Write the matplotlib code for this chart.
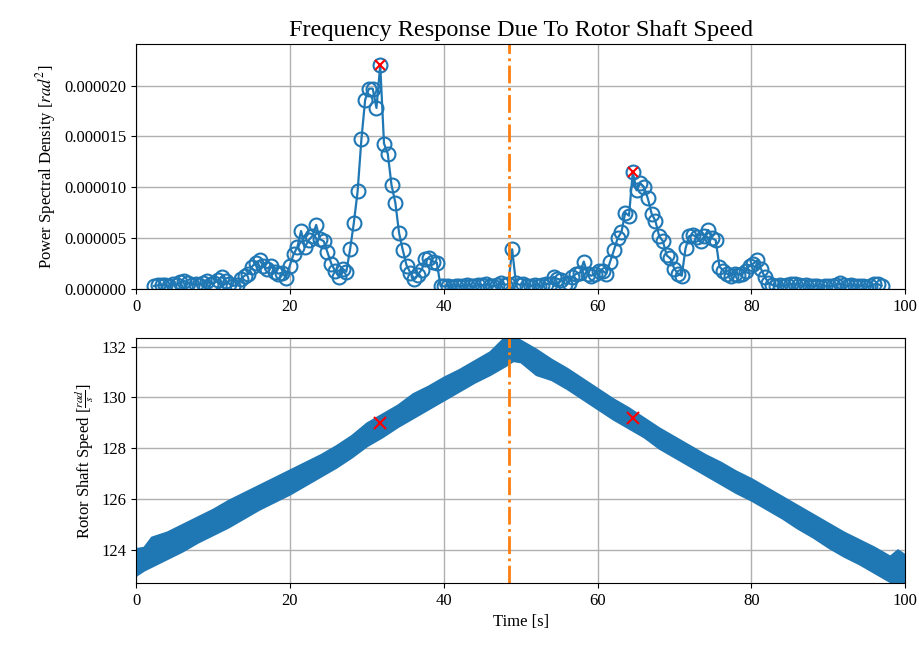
import numpy as np
import matplotlib
matplotlib.use('Agg')
import matplotlib.pyplot as plt
from matplotlib.ticker import FormatStrFormatter

plt.rcParams['font.family'] = ['Liberation Serif', 'DejaVu Serif']
plt.rcParams['mathtext.fontset'] = 'stix'

# PSD samples (units of 1e-6 rad^2), first bin at 2.35, bin width 0.49
f_start = 2.35
f_step = 0.49
psd_e6 = [
    0.3, 0.35, 0.4, 0.35, 0.3, 0.45, 0.4, 0.7, 0.8, 0.6,
    0.4, 0.5, 0.4, 0.6, 0.8, 0.5, 0.6, 0.9, 1.2, 0.8,
    0.5, 0.3, 0.4, 1.0, 1.3, 1.5, 2.2, 2.6, 2.8, 2.3,
    2.0, 2.3, 1.7, 1.5, 1.6, 1.1, 2.3, 3.4, 4.1, 5.7,
    4.1, 4.8, 5.2, 6.3, 4.9, 4.7, 3.6, 2.5, 1.8, 1.2,
    2.0, 1.7, 3.9, 6.5, 9.6, 14.7, 18.6, 19.7, 19.7, 17.8,
    22.0, 14.3, 13.3, 10.2, 8.5, 5.5, 3.8, 2.3, 1.6, 1.0,
    1.4, 1.9, 2.9, 3.0, 2.7, 2.6, 0.3, 0.25, 0.3, 0.2,
    0.3, 0.25, 0.3, 0.35, 0.3, 0.25, 0.4, 0.35, 0.5, 0.3,
    0.3, 0.35, 0.6, 0.4, 0.5, 3.9, 0.6, 0.4, 0.5, 0.3,
    0.3, 0.4, 0.3, 0.35, 0.5, 0.5, 1.2, 1.0, 0.9, 0.5,
    0.6, 1.2, 1.5, 1.6, 2.7, 1.5, 1.3, 1.5, 1.8, 1.8,
    1.5, 2.7, 3.8, 5.0, 5.6, 7.5, 7.2, 11.5, 9.7, 10.4,
    10.0, 8.9, 7.4, 6.7, 5.2, 4.7, 3.3, 3.0, 2.0, 1.5,
    1.3, 4.0, 5.2, 5.3, 5.1, 4.7, 5.2, 5.8, 5.0, 4.8,
    2.2, 1.8, 1.5, 1.3, 1.5, 1.4, 1.5, 1.8, 2.3, 2.5,
    2.8, 2.0, 1.2, 0.6, 0.4, 0.3, 0.35, 0.3, 0.4, 0.45,
    0.5, 0.4, 0.3, 0.35, 0.3, 0.25, 0.3, 0.2, 0.3, 0.25,
    0.3, 0.4, 0.55, 0.4, 0.3, 0.35, 0.25, 0.3, 0.3, 0.2,
    0.3, 0.45, 0.5, 0.3,
]
peak_idx = [60, 127]

# rotor speed band (upper / lower edge of the noisy trace)
t = [0, 1, 2, 4, 6, 8, 10, 12, 14, 16, 18, 20, 22, 24, 26, 28, 30, 32, 34, 36, 38,
     40, 42, 44, 46, 48, 49, 50, 52, 54, 56, 58, 60, 62, 64, 66, 68, 70, 72, 74, 76,
     78, 80, 82, 84, 86, 88, 90, 92, 94, 96, 98, 99, 100]
speed_hi = [124.05, 124.1, 124.5, 124.7, 125.0, 125.3, 125.6, 125.95, 126.25, 126.55, 126.85,
            127.15, 127.45, 127.75, 128.1, 128.5, 129.0, 129.35, 129.7, 130.15, 130.45,
            130.8, 131.1, 131.45, 131.8, 132.4, 132.4, 132.25, 131.9, 131.5, 131.15, 130.75,
            130.35, 129.95, 129.6, 129.2, 128.8, 128.45, 128.1, 127.75, 127.45, 127.1,
            126.8, 126.45, 126.1, 125.75, 125.4, 125.05, 124.7, 124.4, 124.1, 123.75, 124.0, 123.8]
speed_lo = [123.0, 123.2, 123.35, 123.65, 123.95, 124.3, 124.6, 124.9, 125.25, 125.6, 125.9,
            126.2, 126.55, 126.9, 127.25, 127.65, 128.1, 128.45, 128.85, 129.2, 129.55,
            129.9, 130.25, 130.6, 130.9, 131.25, 131.45, 131.4, 130.9, 130.7, 130.35, 129.95,
            129.55, 129.15, 128.8, 128.45, 128.0, 127.65, 127.3, 126.95, 126.6, 126.25,
            125.95, 125.6, 125.25, 124.85, 124.5, 124.1, 123.75, 123.45, 123.1, 122.75, 122.6, 122.65]
peak_t = [31.75, 64.6]
peak_speed = [129.0, 129.2]
t_switch = 48.5

freq = f_start + f_step * np.arange(len(psd_e6))
psd = np.array(psd_e6) * 1e-6

fig, (ax1, ax2) = plt.subplots(2, 1, figsize=(9.19, 6.45), dpi=100)
fig.subplots_adjust(left=0.148, right=0.985, top=0.932, bottom=0.096, hspace=0.2)

ax1.plot(freq, psd, '-o', color='C0', lw=1.6, ms=10, mfc='none', mew=1.5, zorder=2)
ax1.plot(freq[peak_idx], psd[peak_idx], 'x', color='red', ms=7, mew=1.5, zorder=3)
ax1.axvline(t_switch, color='C1', ls='-.', lw=2)
ax1.set_xlim(0, 100)
ax1.set_ylim(0, 2.41e-5)
ax1.yaxis.set_major_formatter(FormatStrFormatter('%.6f'))
ax1.set_ylabel(r'Power Spectral Density [$rad^2$]', fontsize=12)
ax1.set_title('Frequency Response Due To Rotor Shaft Speed', fontsize=17.5)
ax1.grid(True, lw=1)
ax1.set_axisbelow(True)

ax2.fill_between(t, speed_lo, speed_hi, color='C0', lw=1.5, edgecolor='C0', zorder=2)
ax2.plot(peak_t, peak_speed, 'x', color='red', ms=9, mew=1.5, zorder=3)
ax2.axvline(t_switch, color='C1', ls='-.', lw=2)
ax2.set_xlim(0, 100)
ax2.set_ylim(122.69, 132.34)
ax2.set_yticks([124, 126, 128, 130, 132])
ax2.set_ylabel(r'Rotor Shaft Speed [$\frac{rad}{s}$]', fontsize=12)
ax2.set_xlabel('Time [s]', fontsize=12)
ax2.grid(True, lw=1)
ax2.set_axisbelow(True)

for ax in (ax1, ax2):
    ax.tick_params(labelsize=12)

plt.savefig('out.png')
